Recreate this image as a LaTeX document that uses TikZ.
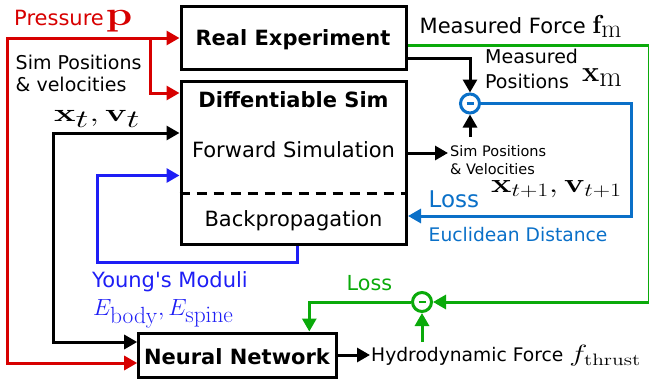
\RequirePackage{fix-cm}
\documentclass[tikz,border=0pt]{standalone}
\usepackage{amsmath}
\usepackage[no-math]{fontspec}
\setmainfont{DejaVu Sans}
\usetikzlibrary{arrows.meta}
\definecolor{cred}{RGB}{215,0,0}
\definecolor{cblue}{RGB}{10,112,200}
\definecolor{cdblue}{RGB}{30,30,245}
\definecolor{cgreen}{RGB}{10,170,10}
\newcommand{\fs}[1]{\fontsize{#1}{#1}\selectfont}
\begin{document}
\begin{tikzpicture}[x=1pt,y=-1pt,
  box/.style={draw, line width=3pt, inner sep=0pt},
  tip/.style={-{Triangle[length=13pt,width=14pt]}},
  both/.style={{Triangle[length=13pt,width=14pt]}-{Triangle[length=13pt,width=14pt]}},
  ln/.style={line width=3pt},
  lab/.style={inner sep=0pt, anchor=base west},
  labc/.style={inner sep=0pt, anchor=base},
  f21/.style={font=\fontsize{21}{25}\selectfont},
  f19/.style={font=\fontsize{19}{23}\selectfont},
  f15/.style={font=\fontsize{14.5}{17}\selectfont},
  minus/.style={circle, line width=3pt, minimum size=19pt, inner sep=0pt, draw}
]
\useasboundingbox (0,0) rectangle (649,383);

% boxes
\node[box, minimum width=225.5pt, minimum height=63.7pt] (re) at (293.75,37.85) {};
\node[box, minimum width=225.5pt, minimum height=163.2pt] (ds) at (293.75,162.9) {};
\node[box, minimum width=198pt, minimum height=44pt] (nn) at (237.7,355) {};
\coordinate (dl) at (181,193.5);
\draw[ln, dash pattern=on 10pt off 7pt] (ds.west |- dl) -- (ds.east |- dl);

% box texts
\node[labc, font=\fontsize{21}{25}\selectfont\bfseries] (ret) at (293,45) {Real Experiment};
\node[labc, font=\fontsize{21}{25}\selectfont\bfseries] (dst) at (293.5,107) {Diffentiable Sim};
\node[labc, f21] (fwd) at (293.5,157) {Forward Simulation};
\node[labc, f21] (bp) at (293.5,226.7) {Backpropagation};
\node[labc, font=\fontsize{21}{25}\selectfont\bfseries] (nnt) at (237,364) {Neural Network};

% circles
\node[minus, draw=cblue] (c1) at (470,103.5) {};
\draw[cblue, line width=2.5pt] ([xshift=-3.5pt]c1.center) -- ([xshift=3.5pt]c1.center);
\node[minus, draw=cgreen] (c2) at (422,302) {};
\draw[cgreen, line width=2.5pt] ([xshift=-3.5pt]c2.center) -- ([xshift=3.5pt]c2.center);

% labels
\node[lab, f21, text=cred] (pr) at (14,25) {Pressure\hspace{2pt}\scalebox{2.12}[1.7]{\fs{20}$\mathbf{p}$}};
\node[lab, f19] (sp1) at (15.5,69) {Sim Positions};
\node[lab, f19] (sp2) at (15.5,91.7) {\& velocities};
\node[lab] (xt) at (54,121) {\scalebox{1.45}[1]{\fs{25}$\mathbf{x}_{\textstyle t},\mathbf{v}_{\textstyle t}$}};
\node[lab, f21] (mf) at (419.5,33.5) {Measured Force \fs{26}$\mathbf{f}_{\textstyle\mathrm{m}}$};
\node[lab, f19] (mp1) at (485,63.5) {Measured};
\node[lab, f19] (mp2) at (485,88) {Positions};
\node[lab] (xm) at (582,81.7) {\fs{29}$\mathbf{x}_{\textstyle\mathrm{m}}$};
\node[lab, f15] (sv1) at (450,156.7) {Sim Positions};
\node[lab, f15] (sv2) at (450,174) {\& Velocities};
\node[lab] (xt1) at (491,192) {\scalebox{1.27}[1]{\fs{27}$\mathbf{x}_{t+1},\mathbf{v}_{t+1}$}};
\node[lab, text=cblue, font=\fontsize{23}{27}\selectfont] (loss1) at (428.5,207.3) {Loss};
\node[lab, text=cblue, font=\fontsize{18.7}{22}\selectfont] (eu) at (428.5,241.7) {Euclidean Distance};
\node[lab, f21, text=cdblue] (ym) at (92,287.3) {Young\textquotesingle s Moduli};
\node[lab, text=cdblue] (eb) at (93,315) {\fs{23.4}$E_{\textstyle\mathrm{body}},E_{\textstyle\mathrm{spine}}$};
\node[lab, text=cgreen, font=\fontsize{20.7}{24}\selectfont] (loss2) at (346.5,290) {Loss};
\node[lab, font=\fontsize{18.7}{22}\selectfont] (hy) at (371,361.7) {Hydrodynamic Force \scalebox{1.3}[1]{\fs{23.6}$f_{\mathrm{thrust}}$}};

% red connectors
\coordinate (rtl) at (7.5,38);
\coordinate (rbl) at (7.5,363);
\coordinate (rbr) at (150,38);
\coordinate (rds) at (150,93);
\draw[ln, cred, both] (rbl -| nn.west) -- (rbl) -- (rtl) -- (rtl -| re.west);
\draw[ln, cred, tip] (rbr) -- (rds) -- (rds -| ds.west);

% black x_t
\coordinate (bk) at (53.3,133);
\coordinate (bkb) at (53.3,342);
\draw[ln, both] (bkb -| nn.west) -- (bkb) -- (bk) -- (bk -| ds.west);

% Young's moduli loop
\coordinate (yb1) at (297,262);
\coordinate (yb2) at (97,262);
\coordinate (yb3) at (97,175.5);
\draw[ln, cdblue, tip] (ds.south -| yb1) -- (yb1) -- (yb2) -- (yb3) -- (yb3 -| ds.west);

% measured positions
\coordinate (bm) at (470,58);
\draw[ln, tip] (re.east |- bm) -- (bm) -- (c1.north);
\coordinate (spt) at (470,137);
\draw[ln, tip] (spt) -- (c1.south);
\coordinate (fsa) at (448,153);
\draw[ln, tip] (fsa -| ds.east) -- (fsa);

% blue loss
\coordinate (bl1) at (631,103.5);
\coordinate (bl2) at (631,216);
\draw[ln, cblue, tip] (c1.east) -- (bl1) -- (bl2) -- (bl2 -| ds.east);

% green loss
\coordinate (g1) at (649,45);
\coordinate (g2) at (649,302);
\draw[ln, cgreen, tip] (re.east |- g1) -- (g1) -- (g2) -- (c2.east);
\coordinate (g3) at (309.3,302);
\draw[ln, cgreen, tip] (c2.west) -- (g3) -- (g3 |- nn.north);
\coordinate (ht) at (422,342);
\draw[ln, cgreen, tip] (ht) -- (c2.south);

% NN -> hydro
\coordinate (nh) at (370,355);
\draw[ln, tip] (nn.east |- nh) -- (nh);
\end{tikzpicture}
\end{document}
